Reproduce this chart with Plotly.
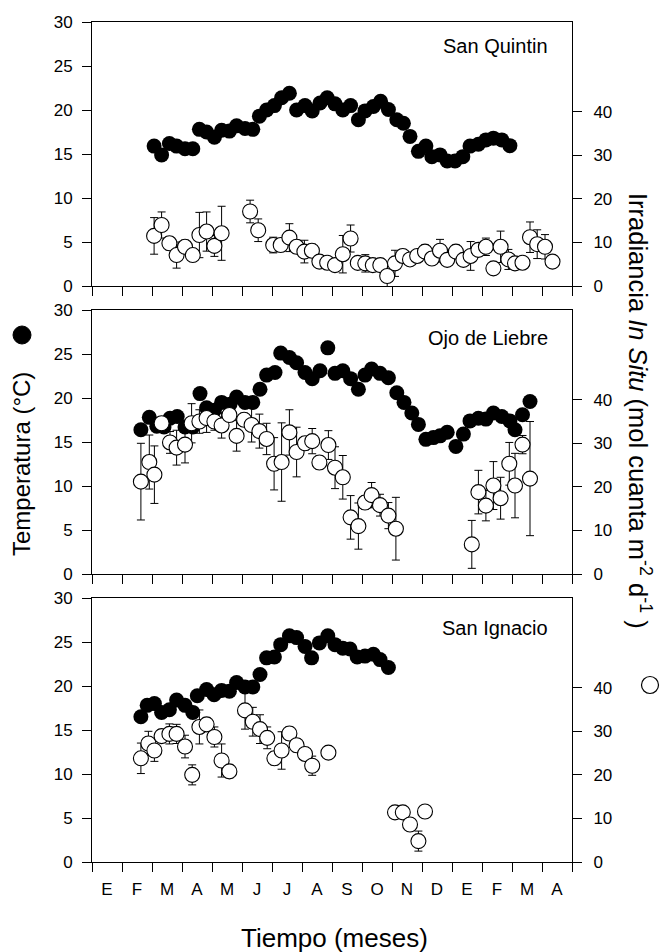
import plotly.graph_objects as go
from plotly.subplots import make_subplots

months = ["E", "F", "M", "A", "M", "J", "J", "A", "S", "O", "N", "D", "E", "F", "M", "A"]

# ---- San Quintin ----
sq_temp_x = [2.07, 2.32, 2.58, 2.82, 3.10, 3.36, 3.58, 3.82, 4.08, 4.32, 4.58, 4.82, 5.10, 5.36, 5.58, 5.82,
             6.08, 6.32, 6.58, 6.82, 7.10, 7.34, 7.60, 7.84, 8.10, 8.36, 8.62, 8.88, 9.10, 9.38, 9.62, 9.88,
             10.16, 10.38, 10.60, 10.88, 11.13, 11.33, 11.60, 11.84, 12.10, 12.36, 12.60, 12.88, 13.13, 13.38,
             13.66, 13.93]
sq_temp = [15.9, 14.9, 16.2, 15.9, 15.6, 15.6, 17.8, 17.5, 16.9, 17.7, 17.6, 18.2, 17.9, 17.8, 19.3, 20.0,
           20.5, 21.4, 21.9, 20.0, 20.5, 19.9, 20.8, 21.4, 20.7, 20.0, 20.5, 18.9, 19.9, 20.4, 21.0, 20.05,
           18.9, 18.5, 17.0, 15.3, 15.9, 14.7, 14.9, 14.2, 14.2, 14.7, 15.9, 16.1, 16.6, 16.8, 16.6, 15.95]
sq_irr_x = [2.07, 2.32, 2.58, 2.82, 3.10, 3.36, 3.58, 3.82, 4.08, 4.32, 5.27, 5.54, 6.04, 6.29, 6.58, 6.82,
            7.08, 7.33, 7.58, 7.84, 8.10, 8.36, 8.62, 8.86, 9.11, 9.36, 9.61, 9.84, 10.10, 10.36, 10.60, 10.84,
            11.10, 11.33, 11.60, 11.84, 12.13, 12.38, 12.62, 12.88, 13.13, 13.38, 13.62, 13.88, 14.10, 14.35,
            14.60, 14.84, 15.10, 15.35]
sq_irr = [11.5, 14.0, 9.8, 7.1, 9.0, 7.1, 11.7, 12.5, 9.2, 12.1, 17.1, 12.8, 9.4, 9.4, 11.1, 9.0,
          7.9, 8.1, 5.6, 5.35, 4.8, 7.3, 10.9, 5.3, 5.2, 4.8, 4.8, 2.3, 5.2, 6.9, 6.1, 6.9,
          7.9, 6.3, 8.1, 6.0, 7.9, 6.0, 6.9, 8.3, 9.0, 4.05, 9.0, 6.1, 5.2, 5.35,
          11.2, 9.6, 9.0, 5.6]
sq_irr_err = [4.2, 3.0, 1.5, 3.0, 1.5, 1.0, 5.2, 4.5, 2.4, 6.2, 2.6, 2.6, 1.8, 1.5, 3.2, 1.5,
              2.6, 1.5, 1.0, 1.0, 1.0, 4.3, 3.1, 1.0, 2.0, 1.5, 1.5, 2.5, 3.0, 1.5, 1.0, 1.0,
              1.5, 1.0, 2.6, 1.0, 1.5, 1.0, 3.3, 1.5, 2.0, 1.0, 3.6, 2.3, 1.0, 1.0,
              3.5, 3.3, 2.8, 1.0]

# ---- Ojo de Liebre ----
ol_temp_x = [1.63, 1.91, 2.16, 2.40, 2.60, 2.84, 3.10, 3.36, 3.60, 3.82, 4.08, 4.32, 4.60, 4.82, 5.10, 5.36,
             5.60, 5.82, 6.10, 6.29, 6.58, 6.82, 7.10, 7.34, 7.60, 7.86, 8.10, 8.36, 8.62, 8.88, 9.10, 9.32,
             9.60, 9.88, 10.16, 10.40, 10.66, 10.88, 11.13, 11.38, 11.60, 11.84, 12.13, 12.38, 12.60, 12.88,
             13.13, 13.38, 13.66, 13.93, 14.10, 14.35, 14.60]
ol_temp = [16.4, 17.8, 16.8, 16.7, 17.7, 17.9, 16.7, 16.7, 20.5, 18.9, 18.6, 19.5, 19.3, 20.1, 19.5, 19.5,
           21.0, 22.6, 22.9, 25.1, 24.6, 24.0, 22.9, 22.2, 23.1, 25.7, 22.8, 23.1, 22.2, 21.0, 22.6, 23.3,
           22.8, 22.3, 20.6, 19.5, 18.3, 17.0, 15.3, 15.5, 15.7, 16.1, 14.5, 15.9, 17.4, 17.7,
           17.6, 18.3, 17.9, 17.4, 16.4, 18.1, 19.6]
ol_irr_x = [1.63, 1.91, 2.08, 2.32, 2.60, 2.82, 3.10, 3.32, 3.58, 3.82, 4.08, 4.32, 4.58, 4.82, 5.07, 5.32,
            5.58, 5.82, 6.07, 6.32, 6.58, 6.82, 7.10, 7.34, 7.58, 7.88, 8.10, 8.36, 8.62, 8.88, 9.10, 9.32,
            9.60, 9.88, 10.13, 12.66, 12.88, 13.13, 13.38, 13.62, 13.91, 14.10, 14.35, 14.60]
ol_irr = [21.2, 25.7, 22.8, 34.6, 30.2, 29.0, 29.7, 34.6, 35.0, 35.8, 35.0, 34.1, 36.5, 31.7, 35.4, 34.2,
          32.8, 31.0, 25.3, 25.7, 32.5, 28.0, 30.0, 30.5, 25.6, 29.6, 24.4, 22.2, 13.0, 11.0, 16.4, 18.1,
          15.8, 13.4, 10.4, 6.8, 18.8, 15.7, 20.3, 17.4, 25.3, 20.3, 29.7, 21.9]
ol_irr_err = [8.8, 6.2, 6.6, 1.5, 2.5, 4.0, 4.2, 4.5, 2.7, 3.3, 2.0, 2.9, 1.5, 3.5, 1.5, 3.9,
              3.9, 3.6, 6.0, 9.0, 5.2, 5.7, 1.5, 2.9, 1.5, 3.3, 4.8, 5.0, 5.0, 5.3, 1.5, 2.9,
              2.5, 3.0, 7.2, 5.5, 5.0, 3.5, 5.5, 4.8, 4.9, 7.4, 2.1, 13.1]

# ---- San Ignacio ----
si_temp_x = [1.63, 1.84, 2.08, 2.32, 2.58, 2.82, 3.10, 3.36, 3.51, 3.82, 4.07, 4.32, 4.58, 4.82, 5.10, 5.36,
             5.60, 5.82, 6.08, 6.29, 6.58, 6.82, 7.10, 7.32, 7.58, 7.86, 8.10, 8.36, 8.60, 8.84, 9.10, 9.38,
             9.60, 9.88]
si_temp = [16.5, 17.8, 18.0, 17.0, 17.3, 18.4, 17.8, 17.0, 18.9, 19.6, 19.0, 19.5, 19.4, 20.4, 19.9, 19.9,
           21.3, 23.2, 23.3, 24.7, 25.7, 25.5, 24.5, 23.2, 24.9, 25.7, 24.7, 24.3, 24.2, 23.3, 23.4, 23.6,
           23.0, 22.1]
si_irr_x = [1.63, 1.88, 2.08, 2.32, 2.58, 2.82, 3.10, 3.34, 3.58, 3.82, 4.08, 4.32, 4.58, 5.10, 5.36, 5.60,
            5.84, 6.08, 6.32, 6.58, 6.82, 7.10, 7.34, 7.88, 10.10, 10.36, 10.60, 10.88, 11.10]
si_irr = [23.8, 27.2, 25.6, 28.9, 29.4, 29.4, 26.5, 20.0, 31.0, 31.6, 28.7, 23.3, 20.8, 34.8, 32.2, 30.5,
          28.5, 23.8, 25.6, 29.5, 26.8, 24.8, 22.1, 25.1, 11.4, 11.4, 8.6, 4.8, 11.6]
si_irr_err = [3.5, 2.8, 2.5, 1.5, 2.3, 2.2, 2.6, 2.3, 3.9, 1.5, 2.3, 3.8, 1.5, 4.3, 3.3, 3.3,
              2.5, 1.5, 4.3, 1.5, 1.5, 1.5, 2.2, 1.0, 1.0, 1.0, 1.0, 2.3, 1.0]

sites = ["San Quintin", "Ojo de Liebre", "San Ignacio"]
panels = [
    (sq_temp_x, sq_temp, sq_irr_x, sq_irr, sq_irr_err),
    (ol_temp_x, ol_temp, ol_irr_x, ol_irr, ol_irr_err),
    (si_temp_x, si_temp, si_irr_x, si_irr, si_irr_err),
]

FONT = "Arial, Liberation Sans, sans-serif"
W, H = 663, 952
ML, MR, MT, MB = 92, 91, 22, 90
PW, PH = W - ML - MR, H - MT - MB

fig = make_subplots(rows=3, cols=1, specs=[[{"secondary_y": True}]] * 3,
                    vertical_spacing=24 / PH)

for i, (tx, ty, ix, iy, ie) in enumerate(panels):
    r = i + 1
    fig.add_trace(go.Scatter(x=tx, y=ty, mode="markers", showlegend=False,
                             marker=dict(size=15, color="black", line=dict(width=0))),
                  row=r, col=1, secondary_y=False)
    fig.add_trace(go.Scatter(x=ix, y=iy, mode="markers", showlegend=False,
                             marker=dict(size=15, color="white", line=dict(width=1.1, color="black")),
                             error_y=dict(type="data", array=ie, color="black", thickness=1, width=4)),
                  row=r, col=1, secondary_y=True)

tickfont = dict(family=FONT, size=17, color="black")
for i in range(3):
    r = i + 1
    fig.update_xaxes(row=r, col=1, domain=[0, 1], range=[0, 16], showline=True, linecolor="black",
                     linewidth=1, mirror=True, showgrid=False, zeroline=False,
                     tickmode="array", tickvals=[k + 0.5 for k in range(16)],
                     ticktext=months if r == 3 else [""] * 16, ticks="", ticklabelstandoff=12,
                     tickfont=tickfont,
                     minor=dict(tickmode="array", tickvals=list(range(17)), ticks="outside",
                                ticklen=9, tickwidth=1, tickcolor="black", showgrid=False))
    fig.update_yaxes(row=r, col=1, secondary_y=False, range=[0, 30], dtick=5, tick0=0,
                     showline=True, linecolor="black", linewidth=1, ticks="outside", ticklen=9,
                     tickcolor="black", showgrid=False, zeroline=False, tickfont=tickfont,
                     ticklabelstandoff=6)
    fig.update_yaxes(row=r, col=1, secondary_y=True, range=[0, 60.6], tickmode="array",
                     tickvals=[0, 10, 20, 30, 40], showline=True, linecolor="black", linewidth=1,
                     ticks="outside", ticklen=9, tickcolor="black", showgrid=False, zeroline=False,
                     tickfont=tickfont, ticklabelstandoff=8)

def px_x(p):
    return (p - ML) / PW

def px_y(p):
    return (H - MB - p) / PH

annotations = []
label_y = [46, 338, 628]
for name, ly in zip(sites, label_y):
    annotations.append(dict(text=name, xref="paper", yref="paper", x=px_x(550), y=px_y(ly),
                            xanchor="right", yanchor="middle", showarrow=False,
                            font=dict(family=FONT, size=20, color="black")))
annotations.append(dict(text="Tiempo (meses)", xref="paper", yref="paper", x=px_x(334), y=px_y(938),
                        xanchor="center", yanchor="middle", showarrow=False,
                        font=dict(family=FONT, size=26, color="black")))
annotations.append(dict(text="Temperatura (°C)", xref="paper", yref="paper", x=px_x(21), y=px_y(464),
                        xanchor="center", yanchor="middle", showarrow=False, textangle=-90,
                        font=dict(family=FONT, size=24, color="black")))
annotations.append(dict(text="Irradiancia <i>In Situ</i> (mol cuanta m<sup>-2</sup> d<sup>-1</sup> )",
                        xref="paper", yref="paper", x=px_x(640), y=px_y(411),
                        xanchor="center", yanchor="middle", showarrow=False, textangle=90,
                        font=dict(family=FONT, size=25.5, color="black")))

shapes = [
    dict(type="circle", xref="paper", yref="paper", xsizemode="pixel", ysizemode="pixel",
         xanchor=px_x(22), yanchor=px_y(335), x0=-9, x1=9, y0=-9, y1=9,
         fillcolor="black", line=dict(color="black", width=1)),
    dict(type="circle", xref="paper", yref="paper", xsizemode="pixel", ysizemode="pixel",
         xanchor=px_x(650), yanchor=px_y(685), x0=-8.5, x1=8.5, y0=-8.5, y1=8.5,
         fillcolor="white", line=dict(color="black", width=1.2)),
]

fig.update_layout(width=W, height=H, margin=dict(l=ML, r=MR, t=MT, b=MB, autoexpand=False),
                  paper_bgcolor="white", plot_bgcolor="white", showlegend=False,
                  font=dict(family=FONT, color="black"),
                  annotations=annotations, shapes=shapes)

fig.write_html("out.html", config={"displayModeBar": False},
               post_script="document.body.style.margin='0px';document.body.style.padding='0px';"
                           "document.body.style.overflow='hidden';"
                           "document.documentElement.style.overflow='hidden';")
